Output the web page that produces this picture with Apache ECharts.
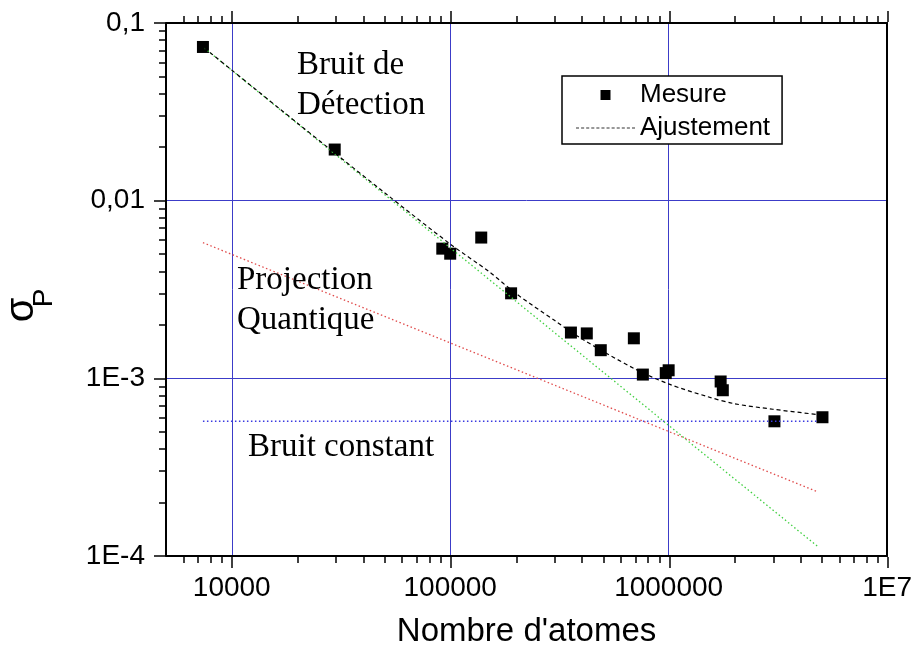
<!DOCTYPE html>
<html>
<head>
<meta charset="utf-8">
<title>Bruit sur la probabilité</title>
<script src="https://cdn.jsdelivr.net/npm/echarts@6/dist/echarts.min.js"></script>
<style>
    html, body { margin: 0; padding: 0; background: #fff; }
    #main { width: 915px; height: 653px; }
</style>
</head>
<body>
<div id="main"></div>
<script>
// ticks
var xTickValues = [1e4, 1e5, 1e6, 1e7];
var xTickLabels = ['10000', '100000', '1000000', '1E7'];
var xMinorTicks = [6000, 7000, 8000, 9000,
    20000, 30000, 40000, 50000, 60000, 70000, 80000, 90000,
    200000, 300000, 400000, 500000, 600000, 700000, 800000, 900000,
    2000000, 3000000, 4000000, 5000000, 6000000, 7000000, 8000000, 9000000];
var yTickValues = [1e-4, 1e-3, 1e-2, 1e-1];
var yTickLabels = ['1E-4', '1E-3', '0,01', '0,1'];
var yMinorTicks = [2e-4, 3e-4, 4e-4, 5e-4, 6e-4, 7e-4, 8e-4, 9e-4,
    2e-3, 3e-3, 4e-3, 5e-3, 6e-3, 7e-3, 8e-3, 9e-3,
    0.02, 0.03, 0.04, 0.05, 0.06, 0.07, 0.08, 0.09];

// mesures
var mesureX = [7380, 29600, 92000, 100000, 138700, 190000, 357000, 422000, 489000,
    693000, 762000, 970000, 1000000, 1730000, 1770000, 3050000, 5060000];
var mesureY = [0.0733, 0.0194, 0.00537, 0.00503, 0.0062, 0.00301, 0.00181, 0.00179, 0.00144,
    0.00168, 0.00105, 0.00107, 0.00111, 0.00096, 0.000857, 0.000573, 0.000604];

// ajustement
var fitX = [7500, 20000, 50000, 100000, 150000, 200000, 300000, 400000, 700000,
    1000000, 1500000, 2000000, 3000000, 4840000];
var fitY = [0.0723, 0.0273, 0.0111, 0.0057, 0.0040, 0.0030, 0.00212, 0.00167, 0.00113,
    0.00093, 0.00079, 0.00072, 0.00067, 0.000625];

// composantes
var detX = [7500, 4840000];
var detY = [0.0722, 0.0001125];
var projX = [7380, 4840000];
var projY = [0.0058, 0.000229];
var constX = [7380, 4840000];
var constY = [0.000573, 0.000573];

var xMin = 5000, xMax = 1e7;
var yMin = 1e-4, yMax = 0.1;

var sans = '"Liberation Sans", Arial, sans-serif';
var serif = '"Liberation Serif", "Times New Roman", serif';
var gridBlue = '#3c3cc8';

function zip(xs, ys) {
    return xs.map(function (x, i) { return [x, ys[i]]; });
}
function pickLabel(values, labels) {
    return function (v) {
        for (var i = 0; i < values.length; i++) {
            if (Math.abs(Math.log10(values[i]) - Math.log10(v)) < 0.01) return labels[i];
        }
        return '';
    };
}

var chart = echarts.init(document.getElementById('main'));

// Les graduations sont tracées comme lignes de grille de petites grilles
// collées au cadre (échelle en décades, valeurs placées par customValues).
function decadeAxis(gridIndex, min, max, ticks, color, width) {
    return {
        type: 'value', gridIndex: gridIndex, min: Math.log10(min), max: Math.log10(max),
        axisLine: { show: false },
        axisTick: { show: false, customValues: ticks.map(Math.log10) },
        axisLabel: { show: false },
        splitLine: { show: true, lineStyle: { color: color, width: width } }
    };
}
function hiddenAxis(gridIndex) {
    return { type: 'value', gridIndex: gridIndex, show: false, min: 0, max: 1 };
}

var grids = [
    { left: 166, right: 27, top: 23, bottom: 97 },        // 0 tracé
    { left: 166, right: 27, top: 557, height: 11 },       // 1 bas, majeures
    { left: 166, right: 27, top: 557, height: 6 },        // 2 bas, mineures
    { left: 166, right: 27, top: 11, height: 11 },        // 3 haut, majeures
    { left: 166, right: 27, top: 16, height: 6 },         // 4 haut, mineures
    { left: 154, width: 11, top: 23, bottom: 97 },        // 5 gauche, majeures
    { left: 159, width: 6, top: 23, bottom: 97 }          // 6 gauche, mineures
];

// tiret du légende "Ajustement"
var dashIcon = 'path://M0,0h3v1h-3zM5,0h3v1h-3zM10,0h3v1h-3zM15,0h3v1h-3zM20,0h3v1h-3zM25,0h3v1h-3z'
    + 'M30,0h3v1h-3zM35,0h3v1h-3zM40,0h3v1h-3zM45,0h3v1h-3zM50,0h3v1h-3zM55,0h3v1h-3z';

var option = {
    animation: false,
    backgroundColor: '#fff',
    grid: grids,
    xAxis: [
        {
            type: 'log', logBase: 10, min: xMin, max: xMax, position: 'bottom', gridIndex: 0,
            name: "Nombre d'atomes", nameLocation: 'middle', nameGap: 59,
            nameTextStyle: { fontSize: 33, color: '#000', fontFamily: sans },
            axisLine: { show: true, lineStyle: { color: '#000', width: 2 } },
            axisTick: { show: false },
            axisLabel: {
                show: true, customValues: xTickValues, formatter: pickLabel(xTickValues, xTickLabels),
                fontSize: 28, color: '#000', fontFamily: sans, margin: 18
            },
            splitLine: { show: false }
        },
        {
            type: 'log', logBase: 10, min: xMin, max: xMax, position: 'top', gridIndex: 0,
            axisLine: { show: true, lineStyle: { color: '#000', width: 2 } },
            axisTick: { show: false }, axisLabel: { show: false }, splitLine: { show: false }
        },
        // grille bleue verticale
        decadeAxis(0, xMin, xMax, xTickValues.slice(0, 3), gridBlue, 1),
        decadeAxis(1, xMin, xMax, xTickValues, '#000', 1.5),
        decadeAxis(2, xMin, xMax, xMinorTicks, '#000', 1.5),
        decadeAxis(3, xMin, xMax, xTickValues, '#000', 1.5),
        decadeAxis(4, xMin, xMax, xMinorTicks, '#000', 1.5),
        hiddenAxis(5),
        hiddenAxis(6)
    ],
    yAxis: [
        {
            type: 'log', logBase: 10, min: yMin, max: yMax, position: 'left', gridIndex: 0,
            axisLine: { show: true, lineStyle: { color: '#000', width: 2 } },
            axisTick: { show: false },
            axisLabel: {
                show: true, customValues: yTickValues, formatter: pickLabel(yTickValues, yTickLabels),
                fontSize: 28, color: '#000', fontFamily: sans, margin: 21
            },
            splitLine: { show: false }
        },
        {
            type: 'log', logBase: 10, min: yMin, max: yMax, position: 'right', gridIndex: 0,
            axisLine: { show: true, lineStyle: { color: '#000', width: 2 } },
            axisTick: { show: false }, axisLabel: { show: false }, splitLine: { show: false }
        },
        // grille bleue horizontale
        decadeAxis(0, yMin, yMax, yTickValues.slice(1, 3), gridBlue, 1),
        hiddenAxis(1),
        hiddenAxis(2),
        hiddenAxis(3),
        hiddenAxis(4),
        decadeAxis(5, yMin, yMax, yTickValues, '#000', 1.5),
        decadeAxis(6, yMin, yMax, yMinorTicks, '#000', 1.5)
    ],
    legend: {
        data: [
            { name: 'Mesure', icon: 'path://M0,0h1v1h-1z', itemStyle: { color: '#000', opacity: 1 } },
            { name: 'Ajustement', icon: dashIcon, itemStyle: { color: '#333' } }
        ],
        orient: 'vertical', left: 562, top: 76,
        itemWidth: 59, itemHeight: 10, itemGap: 7,
        padding: [6, 12, 3, 14],
        borderColor: '#000', borderWidth: 1.5, borderRadius: 0,
        backgroundColor: '#fff',
        selectedMode: false, z: 20,
        textStyle: { fontSize: 26, color: '#000', fontFamily: sans }
    },
    graphic: [
        { type: 'text', left: 297, top: 45, z: 10,
          style: { text: 'Bruit de\nDétection', fontSize: 33, lineHeight: 40, fontFamily: serif, fill: '#000', align: 'center' } },
        { type: 'text', left: 237, top: 260, z: 10,
          style: { text: 'Projection\nQuantique', fontSize: 33, lineHeight: 40, fontFamily: serif, fill: '#000' } },
        { type: 'text', left: 248, top: 427, z: 10,
          style: { text: 'Bruit constant', fontSize: 33, lineHeight: 40, fontFamily: serif, fill: '#000' } },
        // titre de l'axe vertical : sigma indice P
        { type: 'text', x: 22, y: 310, rotation: Math.PI / 2, z: 10,
          style: { text: 'σ', fontSize: 40, fontFamily: sans, fill: '#000', align: 'center', verticalAlign: 'middle' } },
        { type: 'text', x: 44, y: 298, rotation: Math.PI / 2, z: 10,
          style: { text: 'P', fontSize: 28, fontFamily: sans, fill: '#000', align: 'center', verticalAlign: 'middle' } }
    ],
    series: [
        {
            name: 'Bruit constant', type: 'line', data: zip(constX, constY), symbol: 'none', silent: true,
            lineStyle: { color: '#3a3ae0', width: 1.5, type: [1.5, 2.5] }
        },
        {
            name: 'Projection', type: 'line', data: zip(projX, projY), symbol: 'none', silent: true,
            lineStyle: { color: '#e04a4a', width: 1.3, type: [1.5, 2.5] }
        },
        {
            name: 'Détection', type: 'line', data: zip(detX, detY), symbol: 'none', silent: true,
            lineStyle: { color: '#3fcf3f', width: 1.3, type: [1.5, 2.5] }
        },
        {
            name: 'Ajustement', type: 'line', data: zip(fitX, fitY), symbol: 'none', smooth: 0.3,
            itemStyle: { color: '#000' },
            lineStyle: { color: '#000', width: 1.2, type: [4, 3] }
        },
        {
            name: 'Mesure', type: 'scatter', data: zip(mesureX, mesureY),
            symbol: 'rect', symbolSize: 12, itemStyle: { color: '#000', opacity: 1 }
        }
    ]
};

chart.setOption(option);
</script>
</body>
</html>
